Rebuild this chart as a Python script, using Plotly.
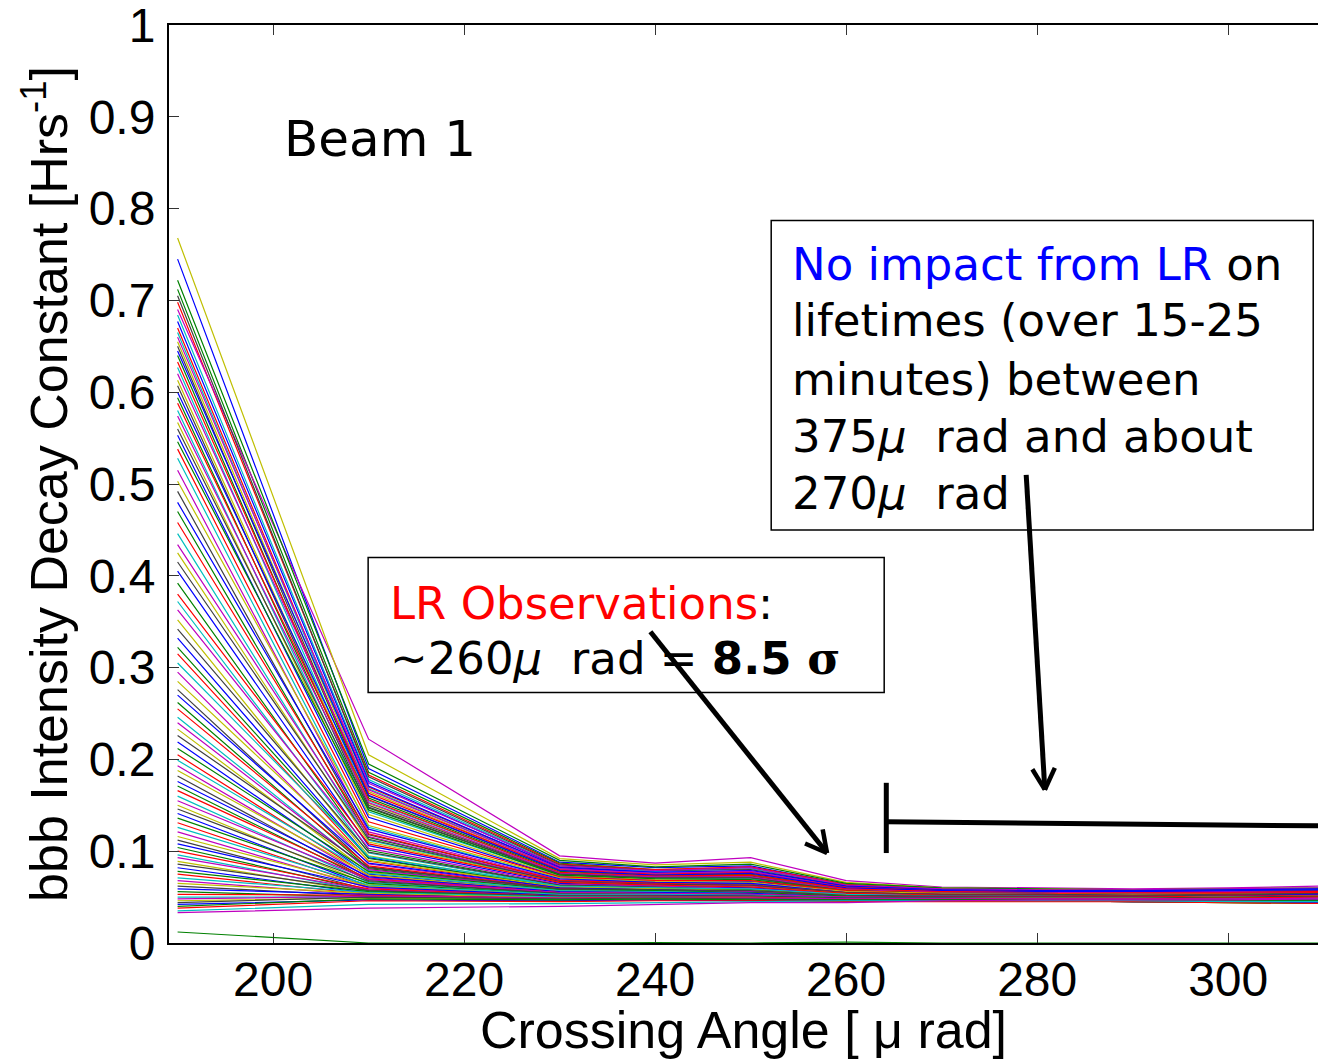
import math
import plotly.graph_objects as go

# Crossing angle values (micro-rad) at which the decay constants were sampled
angles = [190, 210, 230, 240, 250, 260, 270, 280, 290, 300, 310]

# Bunch-by-bunch decay constants [1/h]; element i of every list belongs to bunch i
d190 = [0.745, 0.712, 0.698, 0.684, 0.690, 0.768, 0.705, 0.677, 0.722, 0.670,
        0.665, 0.660, 0.655, 0.650, 0.645, 0.640, 0.633, 0.627, 0.620, 0.613,
        0.607, 0.600, 0.594, 0.588, 0.580, 0.574, 0.567, 0.560, 0.553, 0.546,
        0.538, 0.528, 0.515, 0.503, 0.492, 0.480, 0.470, 0.458, 0.446, 0.434,
        0.425, 0.415, 0.405, 0.392, 0.380, 0.372, 0.363, 0.352, 0.342, 0.332,
        0.322, 0.315, 0.305, 0.295, 0.285, 0.276, 0.270, 0.262, 0.255, 0.246,
        0.240, 0.233, 0.226, 0.219, 0.212, 0.205, 0.199, 0.193, 0.188, 0.182,
        0.176, 0.171, 0.166, 0.160, 0.155, 0.150, 0.146, 0.141, 0.136, 0.131,
        0.126, 0.121, 0.116, 0.112, 0.108, 0.104, 0.100, 0.096, 0.093, 0.089,
        0.086, 0.082, 0.078, 0.075, 0.071, 0.068, 0.065, 0.062, 0.059, 0.056,
        0.053, 0.050, 0.048, 0.046, 0.044, 0.042, 0.040, 0.038, 0.035, 0.033]
d210 = [0.190, 0.186, 0.183, 0.178, 0.222, 0.205, 0.181, 0.176, 0.195, 0.170,
        0.168, 0.174, 0.165, 0.160, 0.171, 0.158, 0.163, 0.155, 0.167, 0.152,
        0.150, 0.161, 0.147, 0.156, 0.143, 0.153, 0.140, 0.148, 0.137, 0.145,
        0.132, 0.126, 0.121, 0.128, 0.118, 0.124, 0.115, 0.119, 0.112, 0.116,
        0.110, 0.113, 0.106, 0.101, 0.108, 0.098, 0.103, 0.095, 0.099, 0.093,
        0.092, 0.089, 0.094, 0.086, 0.090, 0.083, 0.087, 0.081, 0.084, 0.079,
        0.080, 0.077, 0.082, 0.075, 0.078, 0.073, 0.076, 0.071, 0.074, 0.069,
        0.072, 0.068, 0.070, 0.066, 0.069, 0.064, 0.067, 0.062, 0.065, 0.061,
        0.063, 0.060, 0.062, 0.058, 0.061, 0.057, 0.059, 0.056, 0.058, 0.055,
        0.057, 0.054, 0.056, 0.053, 0.055, 0.052, 0.054, 0.051, 0.053, 0.050,
        0.052, 0.050, 0.051, 0.049, 0.050, 0.047, 0.048, 0.046, 0.042, 0.038]
d230 = [0.088, 0.087, 0.086, 0.084, 0.095, 0.092, 0.085, 0.083, 0.090, 0.082,
        0.081, 0.084, 0.080, 0.079, 0.082, 0.078, 0.080, 0.077, 0.081, 0.076,
        0.076, 0.079, 0.075, 0.077, 0.074, 0.076, 0.073, 0.075, 0.072, 0.074,
        0.072, 0.070, 0.069, 0.071, 0.068, 0.070, 0.067, 0.068, 0.066, 0.067,
        0.066, 0.067, 0.065, 0.063, 0.066, 0.062, 0.064, 0.061, 0.063, 0.060,
        0.061, 0.060, 0.062, 0.059, 0.061, 0.058, 0.060, 0.057, 0.059, 0.057,
        0.058, 0.057, 0.059, 0.056, 0.058, 0.055, 0.057, 0.055, 0.056, 0.054,
        0.056, 0.054, 0.055, 0.053, 0.055, 0.052, 0.054, 0.052, 0.053, 0.051,
        0.053, 0.051, 0.052, 0.050, 0.052, 0.050, 0.051, 0.049, 0.050, 0.049,
        0.051, 0.049, 0.050, 0.048, 0.050, 0.048, 0.049, 0.047, 0.048, 0.047,
        0.049, 0.048, 0.049, 0.047, 0.048, 0.046, 0.047, 0.045, 0.043, 0.040]
d240 = [0.082, 0.080, 0.080, 0.078, 0.087, 0.085, 0.079, 0.077, 0.083, 0.076,
        0.076, 0.079, 0.075, 0.074, 0.077, 0.073, 0.075, 0.072, 0.076, 0.071,
        0.072, 0.074, 0.071, 0.073, 0.070, 0.072, 0.069, 0.071, 0.068, 0.070,
        0.068, 0.066, 0.066, 0.067, 0.065, 0.066, 0.064, 0.065, 0.063, 0.064,
        0.063, 0.064, 0.062, 0.061, 0.063, 0.060, 0.062, 0.059, 0.061, 0.058,
        0.059, 0.058, 0.060, 0.057, 0.059, 0.056, 0.058, 0.056, 0.057, 0.055,
        0.057, 0.056, 0.058, 0.055, 0.057, 0.054, 0.056, 0.054, 0.055, 0.053,
        0.055, 0.053, 0.054, 0.052, 0.054, 0.052, 0.053, 0.051, 0.052, 0.051,
        0.053, 0.051, 0.052, 0.050, 0.052, 0.050, 0.051, 0.049, 0.050, 0.049,
        0.051, 0.050, 0.050, 0.049, 0.050, 0.048, 0.049, 0.048, 0.049, 0.047,
        0.050, 0.049, 0.049, 0.048, 0.049, 0.047, 0.048, 0.046, 0.044, 0.042]
d250 = [0.084, 0.082, 0.083, 0.081, 0.093, 0.088, 0.080, 0.078, 0.086, 0.077,
        0.078, 0.082, 0.076, 0.075, 0.079, 0.074, 0.077, 0.073, 0.078, 0.072,
        0.073, 0.076, 0.071, 0.074, 0.070, 0.072, 0.068, 0.071, 0.067, 0.069,
        0.068, 0.065, 0.064, 0.066, 0.062, 0.065, 0.061, 0.063, 0.060, 0.062,
        0.061, 0.063, 0.060, 0.058, 0.061, 0.057, 0.059, 0.056, 0.058, 0.055,
        0.058, 0.056, 0.059, 0.055, 0.057, 0.054, 0.056, 0.053, 0.055, 0.052,
        0.056, 0.054, 0.057, 0.053, 0.055, 0.052, 0.054, 0.051, 0.053, 0.050,
        0.054, 0.052, 0.053, 0.051, 0.053, 0.050, 0.052, 0.049, 0.051, 0.047,
        0.052, 0.050, 0.051, 0.049, 0.051, 0.048, 0.050, 0.048, 0.049, 0.047,
        0.051, 0.049, 0.050, 0.048, 0.050, 0.047, 0.049, 0.047, 0.048, 0.046,
        0.050, 0.048, 0.049, 0.047, 0.048, 0.046, 0.047, 0.046, 0.045, 0.044]
d260 = [0.064, 0.063, 0.064, 0.062, 0.068, 0.066, 0.062, 0.061, 0.065, 0.060,
        0.061, 0.063, 0.060, 0.059, 0.062, 0.059, 0.061, 0.058, 0.060, 0.058,
        0.058, 0.060, 0.057, 0.059, 0.057, 0.058, 0.056, 0.057, 0.056, 0.057,
        0.057, 0.055, 0.056, 0.056, 0.054, 0.055, 0.054, 0.055, 0.053, 0.054,
        0.054, 0.055, 0.053, 0.052, 0.054, 0.052, 0.053, 0.051, 0.052, 0.051,
        0.052, 0.051, 0.053, 0.050, 0.052, 0.050, 0.051, 0.050, 0.051, 0.049,
        0.051, 0.050, 0.052, 0.049, 0.051, 0.049, 0.050, 0.048, 0.050, 0.048,
        0.050, 0.049, 0.050, 0.048, 0.050, 0.048, 0.049, 0.047, 0.049, 0.047,
        0.049, 0.048, 0.049, 0.047, 0.049, 0.047, 0.048, 0.047, 0.048, 0.046,
        0.049, 0.047, 0.048, 0.047, 0.048, 0.046, 0.047, 0.046, 0.047, 0.046,
        0.048, 0.047, 0.048, 0.046, 0.047, 0.046, 0.047, 0.045, 0.046, 0.044]
d270 = [0.058, 0.059, 0.059, 0.058, 0.061, 0.060, 0.057, 0.058, 0.060, 0.057,
        0.057, 0.059, 0.056, 0.056, 0.058, 0.055, 0.057, 0.055, 0.056, 0.054,
        0.055, 0.057, 0.054, 0.056, 0.054, 0.055, 0.053, 0.054, 0.053, 0.054,
        0.054, 0.053, 0.053, 0.054, 0.052, 0.053, 0.052, 0.053, 0.051, 0.052,
        0.052, 0.053, 0.051, 0.050, 0.052, 0.050, 0.051, 0.049, 0.050, 0.049,
        0.050, 0.050, 0.051, 0.049, 0.050, 0.049, 0.050, 0.048, 0.049, 0.048,
        0.050, 0.049, 0.051, 0.048, 0.050, 0.048, 0.049, 0.047, 0.049, 0.047,
        0.050, 0.048, 0.050, 0.047, 0.049, 0.047, 0.049, 0.046, 0.049, 0.046,
        0.049, 0.048, 0.049, 0.047, 0.049, 0.047, 0.048, 0.046, 0.048, 0.046,
        0.049, 0.047, 0.048, 0.047, 0.048, 0.046, 0.047, 0.046, 0.047, 0.046,
        0.048, 0.047, 0.048, 0.046, 0.047, 0.046, 0.047, 0.045, 0.046, 0.046]
d280 = [0.058, 0.058, 0.058, 0.057, 0.060, 0.059, 0.057, 0.057, 0.059, 0.056,
        0.057, 0.058, 0.056, 0.055, 0.057, 0.055, 0.056, 0.054, 0.056, 0.054,
        0.055, 0.056, 0.054, 0.055, 0.053, 0.055, 0.053, 0.054, 0.052, 0.054,
        0.054, 0.052, 0.053, 0.053, 0.051, 0.053, 0.051, 0.052, 0.051, 0.052,
        0.052, 0.053, 0.051, 0.050, 0.052, 0.050, 0.051, 0.049, 0.050, 0.049,
        0.050, 0.049, 0.051, 0.048, 0.050, 0.048, 0.049, 0.048, 0.049, 0.047,
        0.050, 0.049, 0.051, 0.048, 0.050, 0.048, 0.049, 0.047, 0.049, 0.047,
        0.050, 0.048, 0.050, 0.047, 0.049, 0.047, 0.048, 0.046, 0.048, 0.046,
        0.049, 0.048, 0.049, 0.047, 0.048, 0.047, 0.048, 0.046, 0.048, 0.046,
        0.049, 0.047, 0.048, 0.047, 0.048, 0.046, 0.047, 0.046, 0.047, 0.046,
        0.048, 0.047, 0.048, 0.046, 0.047, 0.046, 0.047, 0.045, 0.046, 0.047]
d290 = [0.057, 0.058, 0.057, 0.057, 0.059, 0.058, 0.056, 0.057, 0.058, 0.056,
        0.056, 0.058, 0.055, 0.055, 0.057, 0.054, 0.056, 0.054, 0.055, 0.053,
        0.054, 0.056, 0.053, 0.055, 0.053, 0.054, 0.052, 0.053, 0.052, 0.053,
        0.053, 0.052, 0.052, 0.053, 0.051, 0.052, 0.050, 0.052, 0.050, 0.051,
        0.051, 0.052, 0.050, 0.050, 0.051, 0.049, 0.050, 0.048, 0.050, 0.048,
        0.050, 0.049, 0.050, 0.048, 0.049, 0.048, 0.049, 0.047, 0.049, 0.047,
        0.050, 0.049, 0.051, 0.048, 0.050, 0.047, 0.049, 0.047, 0.049, 0.047,
        0.050, 0.048, 0.050, 0.047, 0.049, 0.046, 0.048, 0.046, 0.048, 0.045,
        0.049, 0.047, 0.049, 0.046, 0.048, 0.046, 0.048, 0.045, 0.048, 0.045,
        0.049, 0.047, 0.048, 0.046, 0.048, 0.046, 0.047, 0.045, 0.047, 0.045,
        0.048, 0.047, 0.048, 0.046, 0.047, 0.045, 0.046, 0.045, 0.046, 0.047]
d300 = [0.057, 0.058, 0.058, 0.057, 0.060, 0.059, 0.056, 0.057, 0.059, 0.055,
        0.057, 0.059, 0.055, 0.054, 0.058, 0.054, 0.056, 0.053, 0.056, 0.053,
        0.055, 0.057, 0.053, 0.055, 0.052, 0.054, 0.052, 0.053, 0.051, 0.053,
        0.054, 0.052, 0.052, 0.053, 0.050, 0.052, 0.050, 0.052, 0.049, 0.051,
        0.051, 0.053, 0.050, 0.049, 0.052, 0.049, 0.050, 0.048, 0.050, 0.047,
        0.050, 0.049, 0.051, 0.047, 0.050, 0.047, 0.049, 0.047, 0.049, 0.046,
        0.051, 0.049, 0.052, 0.048, 0.051, 0.047, 0.050, 0.046, 0.050, 0.046,
        0.051, 0.048, 0.051, 0.046, 0.050, 0.046, 0.048, 0.045, 0.048, 0.045,
        0.050, 0.047, 0.050, 0.046, 0.048, 0.045, 0.048, 0.045, 0.048, 0.044,
        0.050, 0.047, 0.049, 0.046, 0.048, 0.045, 0.047, 0.045, 0.047, 0.044,
        0.049, 0.047, 0.048, 0.045, 0.047, 0.045, 0.046, 0.044, 0.045, 0.047]
d310 = [0.057, 0.059, 0.058, 0.058, 0.062, 0.060, 0.056, 0.057, 0.060, 0.055,
        0.058, 0.060, 0.055, 0.054, 0.059, 0.053, 0.057, 0.052, 0.056, 0.052,
        0.056, 0.058, 0.053, 0.056, 0.052, 0.055, 0.051, 0.054, 0.050, 0.053,
        0.055, 0.052, 0.052, 0.054, 0.049, 0.053, 0.049, 0.052, 0.048, 0.051,
        0.052, 0.054, 0.050, 0.048, 0.053, 0.048, 0.051, 0.047, 0.050, 0.046,
        0.051, 0.048, 0.052, 0.046, 0.050, 0.046, 0.049, 0.046, 0.049, 0.045,
        0.052, 0.049, 0.054, 0.047, 0.052, 0.046, 0.051, 0.045, 0.051, 0.045,
        0.053, 0.048, 0.052, 0.045, 0.051, 0.045, 0.048, 0.044, 0.048, 0.044,
        0.051, 0.047, 0.051, 0.045, 0.048, 0.044, 0.048, 0.044, 0.048, 0.043,
        0.051, 0.047, 0.050, 0.045, 0.049, 0.044, 0.047, 0.044, 0.047, 0.043,
        0.050, 0.047, 0.049, 0.044, 0.047, 0.044, 0.046, 0.043, 0.045, 0.048]

# One almost-empty bunch that sits at ~0
low_bunch = [0.012, 0.0, 0.0, 0.0005, 0.0, 0.001, 0.0, 0.0, 0.0, 0.0, 0.0]

# Axis tick labels
y_ticks = [0, 0.1, 0.2, 0.3, 0.4, 0.5, 0.6, 0.7, 0.8, 0.9, 1]
y_tick_text = ['0', '0.1', '0.2', '0.3', '0.4', '0.5', '0.6', '0.7', '0.8', '0.9', '1']
x_ticks = [200, 220, 240, 260, 280, 300]

columns = [d190, d210, d230, d240, d250, d260, d270, d280, d290, d300, d310]
n = len(d190)
assert all(len(c) == n for c in columns), [len(c) for c in columns]

matlab_colors = ['#0000FF', '#008000', '#FF0000', '#00BFBF', '#BF00BF', '#BFBF00', '#404040']

# layout geometry
W, H = 1318, 1059
ML, MR, MT, MB = 169, 0, 25, 116
XR = [189.1, 309.4]
YR = [0, 1]
PW, PH = W - ML - MR, H - MT - MB

def to_px(x, y):
    return (ML + (x - XR[0]) / (XR[1] - XR[0]) * PW,
            MT + PH - (y - YR[0]) / (YR[1] - YR[0]) * PH)

def to_data(px, py):
    return (XR[0] + (px - ML) / PW * (XR[1] - XR[0]),
            YR[0] + (MT + PH - py) / PH * (YR[1] - YR[0]))

fig = go.Figure()
for i in range(n):
    fig.add_trace(go.Scatter(
        x=angles, y=[c[i] for c in columns], mode='lines',
        line=dict(color=matlab_colors[i % 7], width=1.2), hoverinfo='skip'))
fig.add_trace(go.Scatter(x=angles, y=low_bunch, mode='lines',
                         line=dict(color='#008000', width=1.2), hoverinfo='skip'))

TXT = 'DejaVu Sans'
AX = 'Liberation Sans, Arial, sans-serif'
mu = '<i>μ</i>'

ann = []
def text(x, y, s, size=45):
    ann.append(dict(x=x, y=y, xref='x', yref='y', text=s, showarrow=False,
                    xanchor='left', yanchor='middle',
                    font=dict(family=TXT, size=size, color='black')))

text(200.9, 0.876, 'Beam 1', size=50)
text(212.0, 0.370, "<span style='color:#FF0000'>LR Observations</span>:")
text(212.0, 0.310, "~260" + mu + "  rad = <b>8.5 <span style=\"font-family:'DejaVu Serif'\">σ</span></b>")
text(254.1, 0.739, "<span style='color:#0000FF'>No impact from LR</span> on")
text(254.1, 0.678, "lifetimes (over 15-25")
text(254.1, 0.614, "minutes) between")
text(254.1, 0.552, "375" + mu + "  rad and about")
text(254.1, 0.490, "270" + mu + "  rad")

shapes = [
    dict(type='rect', xref='x', yref='y', x0=209.95, x1=263.98, y0=0.273, y1=0.420,
         line=dict(color='black', width=1.5), fillcolor='white', layer='above'),
    dict(type='rect', xref='x', yref='y', x0=252.15, x1=308.9, y0=0.450, y1=0.787,
         line=dict(color='black', width=1.5), fillcolor='white', layer='above'),
    dict(type='line', xref='x', yref='y', x0=264.2, x1=264.2, y0=0.098, y1=0.1745,
         line=dict(color='black', width=5), layer='above'),
    dict(type='line', xref='x', yref='y', x0=264.2, x1=309.4, y0=0.132, y1=0.1276,
         line=dict(color='black', width=5), layer='above'),
]

def arrow(x0, y0, x1, y1, head=24, spread=28):
    # shaft
    shapes.append(dict(type='line', xref='x', yref='y', x0=x0, y0=y0, x1=x1, y1=y1,
                       line=dict(color='black', width=5), layer='above'))
    # open V head, built in pixel space
    p0, p1 = to_px(x0, y0), to_px(x1, y1)
    ang = math.atan2(p0[1] - p1[1], p0[0] - p1[0])
    for s in (-1, 1):
        a = ang + s * math.radians(spread)
        hx, hy = to_data(p1[0] + head * math.cos(a), p1[1] + head * math.sin(a))
        shapes.append(dict(type='line', xref='x', yref='y', x0=x1, y0=y1, x1=hx, y1=hy,
                           line=dict(color='black', width=4.5), layer='above'))

arrow(239.5, 0.339, 258.0, 0.098)
arrow(278.85, 0.510, 280.8, 0.167)

fig.update_layout(
    width=W, height=H,
    margin=dict(l=ML, r=MR, t=MT, b=MB),
    paper_bgcolor='white', plot_bgcolor='white',
    showlegend=False,
    annotations=ann, shapes=shapes,
    font=dict(family=AX, color='black'),
    xaxis=dict(range=XR, tickvals=x_ticks, automargin=False,
               ticks='inside', ticklen=10, tickwidth=1, tickcolor='#333',
               showline=True, linewidth=2, linecolor='black', mirror='ticks',
               showgrid=False, zeroline=False,
               tickfont=dict(family=AX, size=48, color='black'),
               ticklabelstandoff=-7, ticklabeloverflow='allow',
               title=dict(text='Crossing Angle [ μ rad]', standoff=8,
                          font=dict(family=AX, size=52, color='black'))),
    yaxis=dict(range=YR, tickvals=y_ticks, ticktext=y_tick_text, automargin=False,
               ticks='inside', ticklen=10, tickwidth=1, tickcolor='#333',
               showline=True, linewidth=2, linecolor='black', mirror=False,
               showgrid=False, zeroline=False,
               tickfont=dict(family=AX, size=48, color='black'),
               ticklabelstandoff=2, ticklabeloverflow='allow',
               title=dict(text='bbb Intensity Decay Constant [Hrs<sup>-1</sup>]', standoff=4,
                          font=dict(family=AX, size=52, color='black'))),
)

fig.write_html('out.html')
